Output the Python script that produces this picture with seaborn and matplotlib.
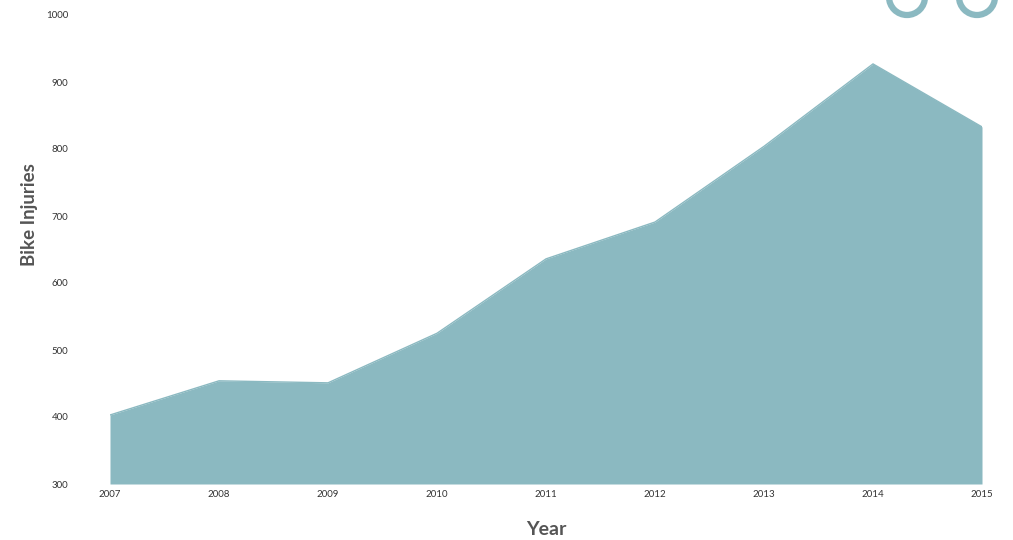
import matplotlib
matplotlib.use("Agg")
import matplotlib.pyplot as plt
import seaborn as sns
import pandas as pd
from matplotlib.patches import Circle

years = [2007, 2008, 2009, 2010, 2011, 2012, 2013, 2014, 2015]
injuries = [403, 454, 451, 525, 636, 691, 804, 927, 833]
y_ticks = [300, 400, 500, 600, 700, 800, 900, 1000]

df = pd.DataFrame({"Year": years, "Bike Injuries": injuries})

sns.set_style("white")
plt.rcParams['font.family'] = ['Lato', 'DejaVu Sans']

color = "#8bb9c1"
fig = plt.figure(figsize=(10.13, 5.4), dpi=100)
ax = fig.add_axes([110/1013, 56/540, 872/1013, 469/540])

ax.fill_between(df["Year"], 300, df["Bike Injuries"], color=color, linewidth=0)
sns.lineplot(data=df, x="Year", y="Bike Injuries", ax=ax, color=color, linewidth=1)

ax.set_xlim(2007, 2015)
ax.set_ylim(300, 1000)
ax.set_xticks(years)
ax.set_xticklabels([str(y) for y in years], fontsize=7, color="#333333")
ax.set_yticks(y_ticks)
ax.set_yticklabels([str(y) for y in y_ticks], fontsize=7, color="#333333")
ax.tick_params(axis='y', length=0, pad=30)
ax.tick_params(axis='x', length=0, pad=4)
for s in ax.spines.values():
    s.set_visible(False)

ax.set_xlabel("Year", fontsize=14, fontweight="bold", color="#555555", labelpad=16)
ax.set_ylabel("Bike Injuries", fontsize=13.5, fontweight="bold", color="#555555")
ax.yaxis.set_label_coords(-0.083, 0.574)

# decorative wheels at top right
ov = fig.add_axes([0, 0, 1, 1], zorder=5)
ov.set_xlim(0, 1013)
ov.set_ylim(540, 0)
ov.axis("off")
ov.patch.set_alpha(0)
for cx in (907, 977):
    ov.add_patch(Circle((cx, -3), 18, fill=False, edgecolor=color, linewidth=4.5))

fig.savefig("out.png", dpi=100)
